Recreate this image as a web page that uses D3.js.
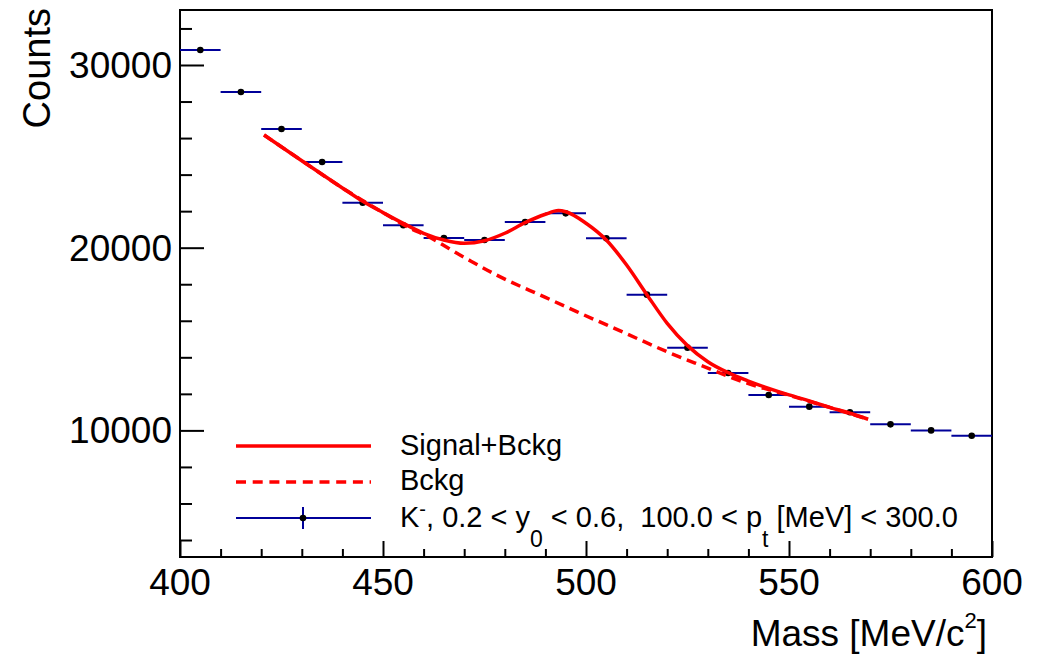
<!DOCTYPE html>
<html>
<head>
<meta charset="utf-8">
<script src="https://cdn.jsdelivr.net/npm/d3@7/dist/d3.min.js"></script>
<style>
  body { margin: 0; background: #fff; }
  svg { font-family: "Liberation Sans", Helvetica, Arial, sans-serif; }
  text { white-space: pre; }
</style>
</head>
<body>
<svg id="chart" width="1042" height="656"></svg>
<script>
// histogram bins (centre, counts), bin width 10 MeV
const binCenters = [405, 415, 425, 435, 445, 455, 465, 475, 485, 495,
                    505, 515, 525, 535, 545, 555, 565, 575, 585, 595];
const binCounts = [30820, 28520, 26500, 24690, 22460, 21225, 20530, 20420, 21400, 21880,
                   20510, 17430, 14530, 13140, 11940, 11300, 10990, 10330, 10000, 9710];
const binWidth = 10;

// fitted curves
const fitMass = [420.7, 430, 440, 445, 450, 455, 460, 465, 470, 475, 480, 485, 490, 493.2, 495,
                 500, 505, 510, 515, 520, 525, 530, 535, 540, 545, 550, 555, 560, 565, 569.5];
const fitTotal = [26170, 24760, 23270, 22540, 21920, 21330, 20790, 20420, 20240, 20380, 20790, 21370, 21830, 22030, 21970,
                  21340, 20420, 19050, 17430, 15860, 14640, 13760, 13160, 12700, 12300, 11940, 11610, 11260, 10940, 10610];
const bkgMass = [420.7, 430, 440, 450, 457.5, 460, 470, 478, 490, 497.7, 510, 519.9, 530, 536.3, 540, 550, 560, 569.5];
const bkgVals = [26170, 24760, 23270, 21920, 20970, 20730, 19470, 18500, 17280, 16500, 15290, 14310, 13410, 12850, 12560, 11920, 11260, 10610];

const xTicks = [400, 450, 500, 550, 600];
const yTicks = [10000, 20000, 30000];

const svg = d3.select('#chart');
const fx0 = 180, fx1 = 992, fy0 = 10, fy1 = 557;
const x = d3.scaleLinear().domain([400, 600]).range([fx0, fx1]);
const y = d3.scaleLinear().domain([3070, 33010]).range([fy1, fy0]);

const fitColor = '#ff0000';
const dataColor = '#000099';

// axes: major + minor ticks, ROOT style (ticks inside the frame)
const xMinor = d3.range(400, 601, 10).filter(v => !xTicks.includes(v));
const yMinor = d3.range(4000, 33001, 2000).filter(v => !yTicks.includes(v));

const xAxis = svg.append('g').attr('transform', `translate(0,${fy1})`);
xAxis.call(d3.axisTop(x).tickValues(xTicks).tickSize(16).tickFormat(''));
xAxis.append('g').call(d3.axisTop(x).tickValues(xMinor).tickSize(8).tickFormat(''));
xAxis.selectAll('.domain').remove();
xAxis.selectAll('line').attr('stroke', '#000').attr('stroke-width', 2);
xAxis.selectAll('.lbl').data(xTicks).enter().append('text')
  .attr('x', d => x(d)).attr('y', 38)
  .attr('text-anchor', 'middle').attr('font-size', 37).attr('fill', '#000')
  .text(d => d);

const yAxis = svg.append('g').attr('transform', `translate(${fx0},0)`);
yAxis.call(d3.axisRight(y).tickValues(yTicks).tickSize(24).tickFormat(''));
yAxis.append('g').call(d3.axisRight(y).tickValues(yMinor).tickSize(12).tickFormat(''));
yAxis.selectAll('.domain').remove();
yAxis.selectAll('line').attr('stroke', '#000').attr('stroke-width', 2);
yAxis.selectAll('.lbl').data(yTicks).enter().append('text')
  .attr('x', -8).attr('y', d => y(d) + 13)
  .attr('text-anchor', 'end').attr('font-size', 37).attr('fill', '#000')
  .text(d => d);

// frame
svg.append('rect').attr('x', fx0).attr('y', fy0)
  .attr('width', fx1 - fx0).attr('height', fy1 - fy0)
  .attr('fill', 'none').attr('stroke', '#000').attr('stroke-width', 2);

// axis titles
const xt = svg.append('text').attr('x', 987).attr('y', 646)
  .attr('text-anchor', 'end').attr('font-size', 37).attr('fill', '#000');
xt.append('tspan').text('Mass [MeV/c');
xt.append('tspan').attr('font-size', 22).attr('dy', -18).text('2');
xt.append('tspan').attr('dy', 18).text(']');

svg.append('text')
  .attr('transform', 'translate(50,8) rotate(-90)')
  .attr('text-anchor', 'end').attr('font-size', 38).attr('fill', '#000')
  .text('Counts');

// data points with horizontal bin-width bars
const pts = binCenters.map((c, i) => ({ c, v: binCounts[i] }));
const plot = svg.append('g');
plot.selectAll('.xerr').data(pts).enter().append('line')
  .attr('x1', d => x(d.c - binWidth / 2)).attr('x2', d => x(d.c + binWidth / 2))
  .attr('y1', d => y(d.v)).attr('y2', d => y(d.v))
  .attr('stroke', dataColor).attr('stroke-width', 2);
plot.selectAll('.dot').data(pts).enter().append('circle')
  .attr('cx', d => x(d.c)).attr('cy', d => y(d.v)).attr('r', 3.3)
  .attr('fill', '#000');

// fit curves
const line = d3.line().x(d => x(d[0])).y(d => y(d[1])).curve(d3.curveMonotoneX);
plot.append('path').datum(bkgMass.map((m, i) => [m, bkgVals[i]]))
  .attr('d', line).attr('fill', 'none')
  .attr('stroke', fitColor).attr('stroke-width', 3.5).attr('stroke-dasharray', '10,6');
plot.append('path').datum(fitMass.map((m, i) => [m, fitTotal[i]]))
  .attr('d', line).attr('fill', 'none')
  .attr('stroke', fitColor).attr('stroke-width', 3.5);

// legend
const lg = svg.append('g');
const lx0 = 236, lx1 = 371, tx = 400;
lg.append('line').attr('x1', lx0).attr('x2', lx1).attr('y1', 446).attr('y2', 446)
  .attr('stroke', fitColor).attr('stroke-width', 3.5);
lg.append('text').attr('x', tx).attr('y', 455).attr('font-size', 29).attr('fill', '#000')
  .text('Signal+Bckg');
lg.append('line').attr('x1', lx0).attr('x2', lx1).attr('y1', 482).attr('y2', 482)
  .attr('stroke', fitColor).attr('stroke-width', 3.5).attr('stroke-dasharray', '10,6.7');
lg.append('text').attr('x', tx).attr('y', 490).attr('font-size', 29).attr('fill', '#000')
  .text('Bckg');
lg.append('line').attr('x1', lx0).attr('x2', lx1).attr('y1', 518).attr('y2', 518)
  .attr('stroke', dataColor).attr('stroke-width', 2);
lg.append('line').attr('x1', 303).attr('x2', 303).attr('y1', 507).attr('y2', 529)
  .attr('stroke', dataColor).attr('stroke-width', 2);
lg.append('circle').attr('cx', 303).attr('cy', 518).attr('r', 3.3).attr('fill', '#000');
const kt = lg.append('text').attr('x', tx).attr('y', 527).attr('font-size', 29).attr('fill', '#000');
kt.append('tspan').text('K');
kt.append('tspan').attr('font-size', 20).attr('dy', -11).text('-');
kt.append('tspan').attr('dy', 11).text(', 0.2 < y');
kt.append('tspan').attr('font-size', 23).attr('dy', 20).text('0');
kt.append('tspan').attr('dy', -20).text(' < 0.6,  100.0 < p');
kt.append('tspan').attr('font-size', 23).attr('dy', 20).text('t');
kt.append('tspan').attr('dy', -20).text(' [MeV] < 300.0');
</script>
</body>
</html>
